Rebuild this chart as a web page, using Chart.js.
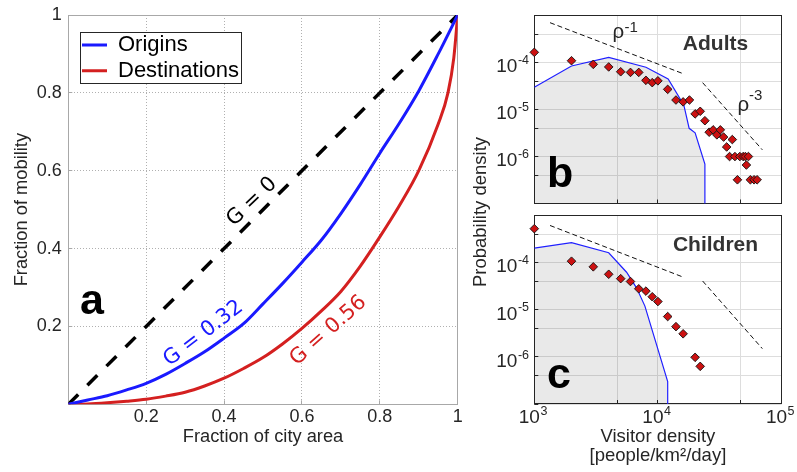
<!DOCTYPE html>
<html><head><meta charset="utf-8">
<script src="https://cdn.jsdelivr.net/npm/chart.js@4.4.0/dist/chart.umd.min.js"></script>
<style>
html,body{margin:0;padding:0;background:#fff;}
#wrap{position:relative;width:797px;height:472px;overflow:hidden;background:#fff;}
canvas{position:absolute;left:0;top:0;}
</style></head><body>
<div id="wrap">
<canvas id="ca" width="797" height="472"></canvas>
<canvas id="cb" width="797" height="472"></canvas>
<canvas id="cc" width="797" height="472"></canvas>
</div>
<script>
// ================= DATA =================
// Panel a: Lorenz curves
const areaFraction     = [0,0.05,0.1,0.15,0.2,0.25,0.3,0.35,0.4,0.45,0.5,0.55,0.6,0.65,0.7,0.75,0.8,0.85,0.9,0.95,1];
const originsMobility  = [0,0.011,0.022,0.037,0.054,0.077,0.105,0.135,0.17,0.207,0.258,0.31,0.365,0.422,0.49,0.565,0.645,0.722,0.805,0.9,1];
const destAreaFraction = [0,0.05,0.1,0.15,0.2,0.25,0.3,0.35,0.4,0.45,0.5,0.55,0.6,0.65,0.7,0.75,0.8,0.85,0.9,0.95,0.975,0.99,1];
const destMobility     = [0,0.001,0.004,0.008,0.013,0.021,0.031,0.047,0.067,0.092,0.12,0.155,0.195,0.24,0.29,0.355,0.43,0.51,0.6,0.72,0.8,0.89,1];
const equalityX = [0,1];
const equalityY = [0,1];
const fracTicks = [0,0.2,0.4,0.6,0.8,1];
const fracTickLabels = ['','0.2','0.4','0.6','0.8','1'];

// Panel b: adults
const adultsDensity = [1000,2000,3000,4000,5000,6000,7000,8000,9000,10000,12000,14000,16000,18000,20000,22000,24000,26000,28000,30000,32000,34000,36000,38000,40000,42000,44000,46000,49000,51000,52000,54000,56000,60000,63500];
const adultsProb    = [1.66e-4,1.1e-4,9.2e-5,8.1e-5,6.4e-5,6.2e-5,6.2e-5,4.2e-5,3.75e-5,4.1e-5,2.7e-5,1.6e-5,1.46e-5,1.6e-5,8.1e-6,9.2e-6,5.8e-6,3.3e-6,3.7e-6,2.9e-6,3.7e-6,2.6e-6,1.6e-6,1.0e-6,2.3e-6,1.0e-6,3.2e-7,1.0e-6,1.0e-6,1.0e-6,6.6e-7,1.0e-6,3.2e-7,3.2e-7,3.2e-7];
const adultsModelDensity = [1000,2000,4000,8000,12100,16200,17900,20000,24000,24000];
const adultsModelProb    = [3.0e-5,8.5e-5,1.3e-4,8.0e-5,4.5e-5,1.26e-5,4.0e-6,3.2e-6,6.9e-7,1e-9];

// Panel c: children
const childrenDensity = [1000,2000,3000,4000,5000,6000,7000,8000,9000,10000,12000,14000,16000,20000,22000];
const childrenProb    = [5.3e-4,1.08e-4,8.2e-5,5.7e-5,4.6e-5,4.0e-5,2.8e-5,2.5e-5,1.9e-5,1.5e-5,7.2e-6,4.4e-6,3.1e-6,9.8e-7,6.3e-7];
const childrenModelDensity = [1000,2000,4000,5580,6730,7850,12000,12000];
const childrenModelProb    = [2.05e-4,2.67e-4,1.63e-4,6.3e-5,2.9e-5,1.2e-5,3.0e-7,1e-9];

// Guide lines (rho^-1 and rho^-3)
const guideRho1X = [1340,16200];
const guideRho3X = [23000,70000];
const adultsRho1Y = [7.1e-4,5.75e-5];
const adultsRho3Y = [3.75e-5,1.39e-6];
const childrenRho1Y = [6.2e-4,4.9e-5];
const childrenRho3Y = [4.1e-5,1.5e-6];

const densityTicks = [1e3,4.7e3,1e4,4.7e4,1e5];
const densityTickExp = ['3','','4','','5'];
const probTicks = [1e-7,4e-7,1e-6,4e-6,1e-5,4e-5,1e-4,4e-4,1e-3];
const probTickExp = ['','','-6','','-5','','-4','',''];

// ================= HELPERS =================
const FONT = "'Liberation Sans', Arial, Helvetica, sans-serif";
const GFONT = "'DejaVu Sans', 'Liberation Sans', sans-serif";
const TXT = '#262626';
Chart.defaults.font.family = FONT;
Chart.defaults.color = TXT;

function pts(xs, ys){ return xs.map((x,i)=>({x:x, y:ys[i]})); }
function fixSize(dim, v){ return s => { s[dim] = v; s.paddingLeft = s.paddingRight = s.paddingTop = s.paddingBottom = 0; }; }
function setTicks(vals){ return s => { s.ticks = vals.map(v => ({value:v})); }; }
function px(v){ return Math.floor(v) + 0.5; }
function drawFrame(chart, color){
  const {ctx, chartArea:a, scales:{x, y}} = chart;
  ctx.save(); ctx.strokeStyle = color; ctx.lineWidth = 1;
  ctx.strokeRect(px(a.left), px(a.top), Math.round(a.right - a.left), Math.round(a.bottom - a.top));
  ctx.beginPath();
  y.ticks.forEach(t => { const yy = px(y.getPixelForValue(t.value)); ctx.moveTo(a.left, yy); ctx.lineTo(a.left + 4, yy); });
  x.ticks.forEach(t => { const xx = px(x.getPixelForValue(t.value)); ctx.moveTo(xx, a.bottom); ctx.lineTo(xx, a.bottom - 4); });
  ctx.stroke();
  ctx.restore();
}

// ================= PANEL A =================
new Chart(document.getElementById('ca'), {
  type: 'line',
  data: { datasets: [
    { label:'Origins', data: pts(areaFraction, originsMobility), borderColor:'#1a1aff', backgroundColor:'#1a1aff', borderWidth:3, pointRadius:0, cubicInterpolationMode:'monotone', fill:false },
    { label:'Destinations', data: pts(destAreaFraction, destMobility), borderColor:'#d42020', backgroundColor:'#d42020', borderWidth:3, pointRadius:0, cubicInterpolationMode:'monotone', fill:false },
    { label:'Equality', data: pts(equalityX, equalityY), borderColor:'#000', backgroundColor:'#000', borderWidth:3.5, borderDash:[14,13], pointRadius:0, fill:false }
  ]},
  options: {
    responsive:false, animation:false, devicePixelRatio:1,
    layout:{ padding:{ left:0, top:15, right:797-457.7, bottom:0 } },
    scales: {
      x: { type:'linear', min:0, max:1, afterBuildTicks: setTicks(fracTicks), afterFit: fixSize('height', 472-404.3),
        grid:{ color:'#b0b0b0', lineWidth:1, drawTicks:false }, border:{ display:false, dash:[1,2] },
        ticks:{ font:{size:18}, color:TXT, padding:2.4, maxRotation:0, autoSkip:false, callback:(v,i)=>fracTickLabels[i] },
        title:{ display:true, text:'Fraction of city area', font:{size:18.3, lineHeight:1}, color:TXT, padding:{top:0,bottom:26} } },
      y: { type:'linear', min:0, max:1, afterBuildTicks: setTicks(fracTicks), afterFit: fixSize('width', 68.3),
        grid:{ color:'#b0b0b0', lineWidth:1, drawTicks:false }, border:{ display:false, dash:[1,2] },
        ticks:{ font:{size:18}, color:TXT, padding:6.6, autoSkip:false, callback:(v,i)=>fracTickLabels[i] },
        title:{ display:true, text:'Fraction of mobility', font:{size:18.3, lineHeight:1}, color:TXT, padding:{top:12.4,bottom:0} } }
    },
    plugins: {
      legend: { display:true, position:'chartArea', align:'start',
        labels:{ usePointStyle:true, pointStyle:'line', pointStyleWidth:25, boxHeight:22, padding:3.7, color:'#000',
          font:{size:22, family:FONT}, filter: it => it.datasetIndex < 2 } },
      tooltip:{ enabled:false }
    }
  },
  plugins: [{
    id:'panelA',
    afterLayout(chart){ const l = chart.legend; if (l){ l.left = 78.3; l.top = 30.3; } },
    beforeDatasetsDraw(chart){ drawFrame(chart, '#a8a8a8'); },
    afterDraw(chart){
      const {ctx, scales:{x, y}} = chart;
      ctx.save();
      ctx.fillStyle = '#fff'; ctx.fillRect(80, 32, 161, 51);
      ctx.strokeStyle = '#262626'; ctx.lineWidth = 1; ctx.strokeRect(80.5, 32.5, 161, 51);
      ctx.restore();
      chart.legend.draw(chart.chartArea);
      ctx.save();
      const labels = [
        {t:'G = 0', vx:0.472, vy:0.52, a:-44, c:'#000'},
        {t:'G = 0.32', vx:0.347, vy:0.182, a:-37.5, c:'#1a1aff'},
        {t:'G = 0.56', vx:0.668, vy:0.189, a:-41.5, c:'#d42020'}
      ];
      ctx.font = '21px ' + GFONT; ctx.textAlign = 'center'; ctx.textBaseline = 'middle';
      labels.forEach(L => {
        ctx.save();
        ctx.translate(x.getPixelForValue(L.vx), y.getPixelForValue(L.vy));
        ctx.rotate(L.a * Math.PI / 180);
        ctx.fillStyle = L.c; ctx.fillText(L.t, 0, 0);
        ctx.restore();
      });
      ctx.font = 'bold 43px ' + FONT; ctx.textAlign = 'left'; ctx.textBaseline = 'alphabetic'; ctx.fillStyle = '#000';
      ctx.fillText('a', 80, 313.5);
      ctx.restore();
    }
  }]
});

// ================= PANELS B & C =================
function drawPowY(ctx, yPix, exp){
  ctx.font = '19px ' + FONT; const wb = ctx.measureText('10').width;
  ctx.font = '12.5px ' + FONT; const we = ctx.measureText(exp).width;
  const x0 = 528.5 - wb - we;
  ctx.textAlign = 'left'; ctx.textBaseline = 'alphabetic'; ctx.fillStyle = TXT;
  ctx.font = '19px ' + FONT; ctx.fillText('10', x0, yPix + 9.7);
  ctx.font = '12.5px ' + FONT; ctx.fillText(exp, x0 + wb + 0.5, yPix + 1.6);
}
function drawPowX(ctx, xPix, yBase, exp){
  ctx.font = '19px ' + FONT; const wb = ctx.measureText('10').width;
  ctx.font = '12.5px ' + FONT; const we = ctx.measureText(exp).width;
  const x0 = xPix - 1.5 - (wb + we) / 2;
  ctx.textAlign = 'left'; ctx.textBaseline = 'alphabetic'; ctx.fillStyle = TXT;
  ctx.font = '19px ' + FONT; ctx.fillText('10', x0, yBase);
  ctx.font = '12.5px ' + FONT; ctx.fillText(exp, x0 + wb + 0.5, yBase - 7.7);
}

function densityChart(id, top, bottom, showX, d){
  return new Chart(document.getElementById(id), {
    type:'line',
    data:{ datasets:[
      { label:'Data', data: pts(d.dx, d.dy), showLine:false, pointStyle:'rectRot', pointRadius:4.3,
        pointBackgroundColor:'#cc1111', pointBorderColor:'#111', pointBorderWidth:0.9, clip:false },
      { label:'rho1', data: pts(guideRho1X, d.r1), borderColor:'#111', borderWidth:1, borderDash:[5,3], pointRadius:0, fill:false },
      { label:'rho3', data: pts(guideRho3X, d.r3), borderColor:'#111', borderWidth:1, borderDash:[5,3], pointRadius:0, fill:false },
      { label:'Model', data: pts(d.mx, d.my), borderColor:'#2020ff', borderWidth:1.2, pointRadius:0, tension:0,
        fill:'start', backgroundColor:'rgba(0,0,0,0.085)' }
    ]},
    options:{
      responsive:false, animation:false, devicePixelRatio:1,
      layout:{ padding:{ left:480, top:top, right:15.5, bottom: showX ? 0 : 472 - bottom } },
      scales:{
        x:{ type:'logarithmic', min:1e3, max:1e5, afterBuildTicks: setTicks(densityTicks), afterFit: fixSize('height', showX ? 472 - bottom : 0),
          grid:{ color:'#dddddd', lineWidth:1, drawTicks:false }, border:{ display:false }, ticks:{ display:false },
          title: showX ? { display:true, text:['Visitor density','[people/km\u00b2/day]'], font:{size:18.5, lineHeight:1}, color:TXT, padding:{top:0,bottom:7.3} } : { display:false } },
        y:{ type:'logarithmic', min:1e-7, max:1e-3, afterBuildTicks: setTicks(probTicks), afterFit: fixSize('width', 54.3),
          grid:{ color:'#dddddd', lineWidth:1, drawTicks:false }, border:{ display:false }, ticks:{ display:false } }
      },
      plugins:{ legend:{ display:false }, tooltip:{ enabled:false } }
    },
    plugins:[{
      id:'panelBC',
      beforeDatasetsDraw(chart){ drawFrame(chart, '#262626'); },
      afterDraw(chart){
        const {ctx, chartArea:a, scales:{x, y}} = chart;
        ctx.save();
        y.ticks.forEach((t,i) => { if (probTickExp[i]) drawPowY(ctx, y.getPixelForValue(t.value), probTickExp[i]); });
        if (showX) x.ticks.forEach((t,i) => { if (densityTickExp[i]) drawPowX(ctx, x.getPixelForValue(t.value), a.bottom + 18.7, densityTickExp[i]); });
        ctx.fillStyle = '#333'; ctx.textAlign = 'center'; ctx.textBaseline = 'alphabetic';
        ctx.font = 'bold 21px ' + FONT; ctx.fillText(d.title, 715.5, d.titleY);
        ctx.fillStyle = '#000'; ctx.textAlign = 'left';
        ctx.font = 'bold 43px ' + FONT; ctx.fillText(d.panel, 547, d.panelY);
        if (d.rho){
          ctx.fillStyle = TXT;
          ctx.font = '20.5px ' + FONT; ctx.fillText('\u03c1', 612.5, 37.5);
          ctx.font = '15px ' + FONT; ctx.fillText('-1', 624.5, 31.8);
          ctx.font = '20.5px ' + FONT; ctx.fillText('\u03c1', 737.5, 110.5);
          ctx.font = '15px ' + FONT; ctx.fillText('-3', 749, 100.2);
        }
        if (d.ytitle){
          ctx.save(); ctx.translate(481, 212); ctx.rotate(-Math.PI/2);
          ctx.font = '18.5px ' + FONT; ctx.fillStyle = TXT; ctx.textAlign = 'center'; ctx.textBaseline = 'middle';
          ctx.fillText('Probability density', 0, 0);
          ctx.restore();
        }
        ctx.restore();
      }
    }]
  });
}

densityChart('cb', 15.7, 203.5, false, {
  dx: adultsDensity, dy: adultsProb, mx: adultsModelDensity, my: adultsModelProb,
  r1: adultsRho1Y, r3: adultsRho3Y, title:'Adults', titleY:50, panel:'b', panelY:186.7, rho:true, ytitle:false
});
densityChart('cc', 215.7, 404, true, {
  dx: childrenDensity, dy: childrenProb, mx: childrenModelDensity, my: childrenModelProb,
  r1: childrenRho1Y, r3: childrenRho3Y, title:'Children', titleY:250.7, panel:'c', panelY:388.3, rho:false, ytitle:true
});
</script>
</body></html>
